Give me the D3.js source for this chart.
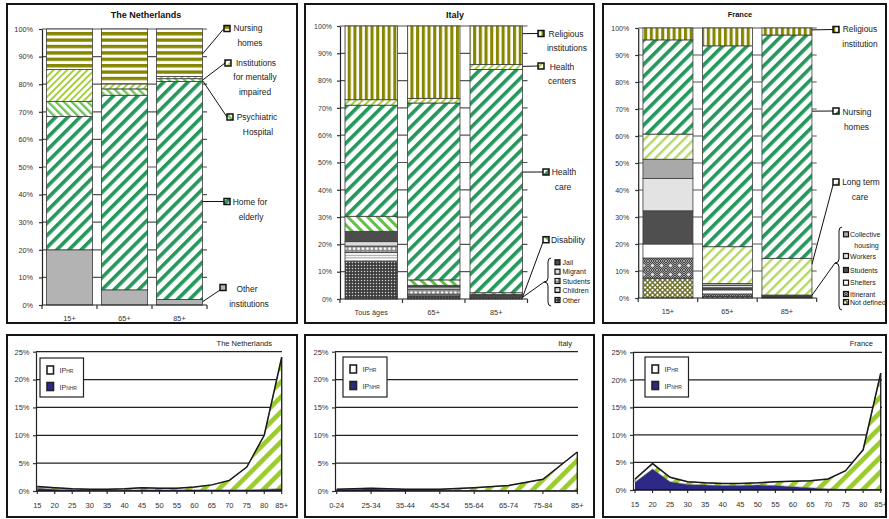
<!DOCTYPE html>
<html>
<head>
<meta charset="utf-8">
<script src="https://cdn.jsdelivr.net/npm/d3@7"></script>
<style>
  html, body { margin: 0; padding: 0; background: #fff; }
  svg { display: block; font-family: "Liberation Sans", Arial, sans-serif; }
</style>
</head>
<body>
<svg id="chart" width="889" height="519"></svg>
<script>
// ---------- Residents by type of institution (% of institutional population) ----------
const nlCategories = ["15+", "65+", "85+"];
const nlOtherInstitutions = [20.0, 5.5, 2.0];
const nlHomeForElderly = [48.3, 70.5, 79.0];
const nlPsychiatricHospital = [5.4, 2.3, 1.0];
const nlMentallyImpaired = [11.6, 1.8, 0.8];
const nlNursingHomes = [14.7, 19.9, 17.2];

const itCategories = ["Tous âges", "65+", "85+"];
const itOther = [13.7, 1.2, 0.5];
const itChildren = [3.3, 0.6, 0.2];
const itStudents = [2.4, 1.8, 0.3];
const itMigrant = [1.6, 0.8, 0.2];
const itJail = [3.8, 0.6, 0.5];
const itDisability = [5.5, 2.0, 0.6];
const itHealthCare = [40.7, 64.8, 81.8];
const itHealthCenters = [2.0, 1.7, 1.8];
const itReligious = [27.0, 26.5, 14.1];

const frCategories = ["15+", "65+", "85+"];
const frNotDefined = [7.3, 0.6, 0.2];
const frItinerant = [7.5, 0.9, 0.2];
const frShelters = [5.2, 1.5, 0.2];
const frStudents = [12.3, 0.8, 0.3];
const frWorkers = [12.0, 0.8, 0.1];
const frCollectiveHousing = [7.1, 0.8, 0.1];
const frLongTermCare = [9.3, 13.6, 13.6];
const frNursingHomes = [34.9, 74.4, 82.7];
const frReligious = [4.4, 6.6, 2.6];

const barTicks = [0, 10, 20, 30, 40, 50, 60, 70, 80, 90, 100];

// ---------- Share of population living in institutions, by age (%) ----------
const nlAges = ["15", "20", "25", "30", "35", "40", "45", "50", "55", "60", "65", "70", "75", "80", "85+"];
const nlIPNHR = [0.5, 0.3, 0.2, 0.15, 0.15, 0.15, 0.2, 0.2, 0.2, 0.2, 0.2, 0.2, 0.2, 0.3, 0.4];
const nlIPHR = [0.3, 0.3, 0.2, 0.15, 0.15, 0.25, 0.4, 0.3, 0.3, 0.5, 0.9, 1.7, 4.1, 9.7, 23.6];

const itAges = ["0-24", "25-34", "35-44", "45-54", "55-64", "65-74", "75-84", "85+"];
const itIPNHR = [0.2, 0.4, 0.2, 0.15, 0.1, 0.05, 0.05, 0.05];
const itIPHR = [0.1, 0.1, 0.1, 0.15, 0.5, 0.95, 2.05, 6.95];

const frAges = ["15", "20", "25", "30", "35", "40", "45", "50", "55", "60", "65", "70", "75", "80", "85+"];
const frIPNHR = [1.4, 3.8, 1.5, 1.0, 0.9, 0.8, 0.8, 0.9, 0.8, 0.6, 0.4, 0.2, 0.1, 0.1, 0.1];
const frIPHR = [0.6, 1.0, 0.8, 0.5, 0.4, 0.4, 0.4, 0.4, 0.7, 1.0, 1.3, 1.8, 3.4, 7.2, 21.1];

const lineTicks = [0, 5, 10, 15, 20, 25];

// ---------- drawing ----------
const svg = d3.select("#chart");
const defs = svg.append("defs");

function stripes(id, color, period, width, angle) {
  const p = defs.append("pattern").attr("id", id)
    .attr("patternUnits", "userSpaceOnUse")
    .attr("width", period).attr("height", period)
    .attr("patternTransform", `rotate(${angle})`);
  p.append("rect").attr("width", period).attr("height", period).attr("fill", "#fff");
  p.append("rect").attr("width", width).attr("height", period).attr("fill", color);
}
function dots(id, bg, dot, size, r) {
  const p = defs.append("pattern").attr("id", id)
    .attr("patternUnits", "userSpaceOnUse").attr("width", size).attr("height", size);
  p.append("rect").attr("width", size).attr("height", size).attr("fill", bg);
  p.append("circle").attr("cx", size / 2).attr("cy", size / 2).attr("r", r).attr("fill", dot);
}
stripes("olive-rows", "#868600", 6.4, 3.4, 90);
stripes("olive-cols", "#868600", 5.7, 3.1, 0);
stripes("green-diag", "#24985a", 8.6, 3.6, 45);
stripes("lime-diag", "#a4cf36", 4.8, 1.9, 45);
stripes("mint-diag", "#6fc35b", 5.6, 2.4, -45);
stripes("mint-wide", "#62c046", 7, 3, -45);
stripes("pale-diag", "#b5d95e", 7, 2.4, 45);
stripes("area-diag", "#9bcc2e", 10.6, 4.7, 45);
stripes("gray-rows", "#9a9a9a", 2.6, 1, 90);
dots("dark-dots", "#3d3d3d", "#d0d0d0", 3, 0.75);
dots("ring-row", "#8c8c8c", "#ffffff", 4.4, 1.4);
(function () {
  const chk = defs.append("pattern").attr("id", "checker")
    .attr("patternUnits", "userSpaceOnUse").attr("width", 2).attr("height", 2);
  chk.append("rect").attr("width", 2).attr("height", 2).attr("fill", "#474747");
  chk.append("rect").attr("width", 1).attr("height", 1).attr("fill", "#a0a0a0");
  chk.append("rect").attr("x", 1).attr("y", 1).attr("width", 1).attr("height", 1).attr("fill", "#a0a0a0");
  const st = defs.append("pattern").attr("id", "checker-stars")
    .attr("patternUnits", "userSpaceOnUse").attr("width", 9).attr("height", 9);
  st.append("rect").attr("width", 9).attr("height", 9).attr("fill", "url(#checker)");
  st.append("circle").attr("cx", 4.5).attr("cy", 4.5).attr("r", 1.3).attr("fill", "#fff");
  const lat = defs.append("pattern").attr("id", "olive-lattice")
    .attr("patternUnits", "userSpaceOnUse").attr("width", 5).attr("height", 5);
  lat.append("rect").attr("width", 5).attr("height", 5).attr("fill", "#fff");
  lat.append("path").attr("d", "M-1,-1L6,6M6,-1L-1,6").attr("stroke", "#6f6f2c").attr("stroke-width", 1.5);
})();

function styleAxis(sel, size) {
  sel.attr("font-family", null).attr("font-size", null);
  sel.select(".domain").attr("stroke", "#222").attr("stroke-width", 1.2);
  sel.selectAll(".tick line").attr("stroke", "#333").attr("stroke-width", 1.2);
  sel.selectAll(".tick text").attr("fill", "#333").style("font-size", size + "px");
}

function brace(x, top, bottom, tipX, mid) {
  return `M${x + 3},${top} Q${x},${top} ${x},${top + 4} L${x},${mid - 4} Q${x},${mid} ${tipX},${mid}` +
         ` Q${x},${mid} ${x},${mid + 4} L${x},${bottom - 4} Q${x},${bottom} ${x + 3},${bottom}`;
}

function drawStacked(opt) {
  const g = svg.append("g");
  const x = d3.scaleBand().domain(opt.categories).range([opt.x0, opt.x1])
    .paddingInner(0.16).paddingOuter(0.08);
  const y = d3.scaleLinear().domain([0, 100]).range([opt.yBottom, opt.yTop]);

  g.append("g").selectAll("line").data(barTicks.filter(v => v > 0)).join("line")
    .attr("x1", opt.x0).attr("x2", opt.x1)
    .attr("y1", d => y(d)).attr("y2", d => y(d))
    .attr("stroke", "#555").attr("stroke-width", 1.2);

  const rows = opt.categories.map((c, i) => {
    const r = { cat: c };
    opt.series.forEach(s => { r[s.key] = s.values[i]; });
    return r;
  });
  const stacked = d3.stack().keys(opt.series.map(s => s.key))(rows);
  g.append("g").selectAll("g").data(stacked).join("g")
    .attr("fill", (d, i) => opt.series[i].fill)
    .selectAll("rect").data(d => d).join("rect")
    .attr("x", d => x(d.data.cat)).attr("width", x.bandwidth())
    .attr("y", d => y(d[1])).attr("height", d => y(d[0]) - y(d[1]))
    .attr("stroke", "#3c3c3c").attr("stroke-width", 0.8);

  const ya = g.append("g").attr("transform", `translate(${opt.x0},0)`)
    .call(d3.axisLeft(y).tickValues(barTicks).tickSize(3).tickSizeOuter(0)
      .tickPadding(opt.tickPad).tickFormat(d => d + "%"));
  styleAxis(ya, opt.tickFont);

  g.append("line").attr("x1", opt.x0).attr("x2", opt.x1)
    .attr("y1", opt.yBottom).attr("y2", opt.yBottom)
    .attr("stroke", "#222").attr("stroke-width", 1.2);
  g.append("g").selectAll("line").data(d3.range(opt.categories.length + 1)).join("line")
    .attr("x1", i => opt.x0 + i * x.step()).attr("x2", i => opt.x0 + i * x.step())
    .attr("y1", opt.yBottom).attr("y2", opt.yBottom + 4)
    .attr("stroke", "#333").attr("stroke-width", 1.2);
  g.append("g").selectAll("text").data(opt.categories).join("text")
    .attr("x", d => x(d) + x.bandwidth() / 2).attr("y", opt.yBottom + 15.5)
    .attr("text-anchor", "middle").attr("fill", "#333")
    .style("font-size", "7.3px").text(d => d);

  g.append("text").attr("x", opt.titleX).attr("y", opt.titleY)
    .attr("text-anchor", "middle").attr("font-weight", "bold").attr("fill", "#111")
    .style("font-size", opt.titleSize + "px").text(opt.title);

  const xRight = c => x(c) + x.bandwidth();
  const lastCat = opt.categories[opt.categories.length - 1];
  const barEdge = xRight(lastCat);

  // main legend entries with leader lines
  opt.legend.forEach(item => {
    const s = opt.series.find(d => d.key === item.key);
    const from = item.from ? item.from : [barEdge, y(item.at)];
    const to = item.to ? item.to : [barEdge, y(item.at)];
    g.append("line").attr("x1", from[0]).attr("y1", from[1]).attr("x2", to[0]).attr("y2", to[1])
      .attr("stroke", "#111").attr("stroke-width", 1);
    g.append("rect").attr("x", item.sx).attr("y", item.sy).attr("width", 6).attr("height", 6)
      .attr("fill", s.fill).attr("stroke", "#111").attr("stroke-width", 1.5);
    item.lines.forEach(l => {
      g.append("text").attr("x", l[1]).attr("y", l[2]).attr("text-anchor", "middle")
        .attr("fill", "#222").style("font-size", opt.legendFont + "px").text(l[0]);
    });
  });

  // grouped small categories behind a brace
  if (opt.group) {
    const b = opt.group;
    g.append("path").attr("d", brace(b.x, b.top, b.bottom, b.tipX, b.mid))
      .attr("fill", "none").attr("stroke", "#111").attr("stroke-width", 1);
    g.append("line").attr("x1", b.tipX).attr("y1", b.mid)
      .attr("x2", barEdge).attr("y2", y(b.at))
      .attr("stroke", "#111").attr("stroke-width", 1);
    b.items.forEach(it => {
      const s = opt.series.find(d => d.key === it.key);
      g.append("rect").attr("x", b.sx).attr("y", it.cy - 2.5).attr("width", 5).attr("height", 5)
        .attr("fill", s.fill).attr("stroke", "#111").attr("stroke-width", 1.2);
      g.append("text").attr("x", b.tx).attr("y", it.cy + 2.5).attr("fill", "#222")
        .style("font-size", "7px").text(it.lines[0]);
      if (it.lines[1]) {
        g.append("text").attr("x", it.lines[1][1]).attr("y", it.lines[1][2]).attr("text-anchor", "middle")
          .attr("fill", "#222").style("font-size", "7px").text(it.lines[1][0]);
      }
    });
  }
}

// The Netherlands
drawStacked({
  categories: nlCategories,
  series: [
    { key: "Other institutions", values: nlOtherInstitutions, fill: "#b3b3b3" },
    { key: "Home for elderly", values: nlHomeForElderly, fill: "url(#green-diag)" },
    { key: "Psychiatric Hospital", values: nlPsychiatricHospital, fill: "url(#mint-diag)" },
    { key: "Institutions for mentally impaired", values: nlMentallyImpaired, fill: "url(#lime-diag)" },
    { key: "Nursing homes", values: nlNursingHomes, fill: "url(#olive-rows)" }
  ],
  x0: 42, x1: 207, yBottom: 305, yTop: 29, tickPad: 6, tickFont: 7.3,
  title: "The Netherlands", titleX: 146, titleY: 18, titleSize: 9,
  legendFont: 8.4,
  legend: [
    { key: "Nursing homes", sx: 224, sy: 25.5, at: 91, to: [224, 28.5],
      lines: [["Nursing", 248, 31], ["homes", 250, 46]] },
    { key: "Institutions for mentally impaired", sx: 225, sy: 60, at: 81.5, to: [225, 63],
      lines: [["Institutions", 256, 65.5], ["for mentally", 255, 80], ["impaired", 255, 95]] },
    { key: "Psychiatric Hospital", sx: 227, sy: 114, at: 81.3, to: [227, 117],
      lines: [["Psychiatric", 257, 120], ["Hospital", 258, 135]] },
    { key: "Home for elderly", sx: 224, sy: 198.5, at: 37.5, to: [224, 201.5],
      lines: [["Home for", 250, 205], ["elderly", 251, 220]] },
    { key: "Other institutions", sx: 220, sy: 284.5, at: 1.2, to: [220, 290],
      lines: [["Other", 247, 292], ["institutions", 249, 307]] }
  ]
});

// Italy
drawStacked({
  categories: itCategories,
  series: [
    { key: "Other", values: itOther, fill: "url(#dark-dots)" },
    { key: "Children", values: itChildren, fill: "url(#gray-rows)" },
    { key: "Students", values: itStudents, fill: "url(#ring-row)" },
    { key: "Migrant", values: itMigrant, fill: "#dcdcdc" },
    { key: "Jail", values: itJail, fill: "#4d4d4d" },
    { key: "Disability", values: itDisability, fill: "url(#mint-wide)" },
    { key: "Health care", values: itHealthCare, fill: "url(#green-diag)" },
    { key: "Health centers", values: itHealthCenters, fill: "url(#lime-diag)" },
    { key: "Religious institutions", values: itReligious, fill: "url(#olive-cols)" }
  ],
  x0: 340, x1: 527.5, yBottom: 299, yTop: 26, tickPad: 5, tickFont: 7,
  title: "Italy", titleX: 455, titleY: 18, titleSize: 9,
  legendFont: 8.5,
  legend: [
    { key: "Religious institutions", sx: 538, sy: 30.5, at: 97.2, to: [538, 33.5],
      lines: [["Religious", 566, 37], ["institutions", 567, 51]] },
    { key: "Health centers", sx: 538, sy: 63, at: 85.2, to: [538, 66],
      lines: [["Health", 562, 69.5], ["centers", 562, 84]] },
    { key: "Health care", sx: 543, sy: 169, at: 46.5, to: [543, 172],
      lines: [["Health", 564, 175], ["care", 563, 190]] },
    { key: "Disability", sx: 543, sy: 236.7, at: 0.6, to: [543, 242],
      lines: [["Disability", 568, 243]] }
  ],
  group: {
    x: 548, top: 258, bottom: 306, tipX: 544, mid: 282, at: 0.6, sx: 555, tx: 562.5,
    items: [
      { key: "Jail", cy: 262.3, lines: ["Jail"] },
      { key: "Migrant", cy: 271.7, lines: ["Migrant"] },
      { key: "Students", cy: 281, lines: ["Students"] },
      { key: "Children", cy: 290, lines: ["Children"] },
      { key: "Other", cy: 300, lines: ["Other"] }
    ]
  }
});

// France
drawStacked({
  categories: frCategories,
  series: [
    { key: "Not defined", values: frNotDefined, fill: "url(#olive-lattice)" },
    { key: "Itinerant", values: frItinerant, fill: "url(#checker-stars)" },
    { key: "Shelters", values: frShelters, fill: "#ffffff" },
    { key: "Students", values: frStudents, fill: "#4f4f4f" },
    { key: "Workers", values: frWorkers, fill: "#e3e3e3" },
    { key: "Collective housing", values: frCollectiveHousing, fill: "#a9a9a9" },
    { key: "Long term care", values: frLongTermCare, fill: "url(#pale-diag)" },
    { key: "Nursing homes", values: frNursingHomes, fill: "url(#green-diag)" },
    { key: "Religious institution", values: frReligious, fill: "url(#olive-cols)" }
  ],
  x0: 638.2, x1: 816.7, yBottom: 298, yTop: 28, tickPad: 6, tickFont: 7,
  title: "France", titleX: 740, titleY: 16.5, titleSize: 7.5,
  legendFont: 8.4,
  legend: [
    { key: "Religious institution", sx: 833, sy: 26.5, at: 99.3, to: [833, 29.5],
      lines: [["Religious", 860, 32], ["institution", 860, 47]] },
    { key: "Nursing homes", sx: 833, sy: 108, at: 69.2, to: [833, 111],
      lines: [["Nursing", 857, 115], ["homes", 856.5, 129.5]] },
    { key: "Long term care", sx: 833, sy: 179, at: 12.5, to: [833, 185],
      lines: [["Long term", 861, 185], ["care", 860, 200]] }
  ],
  group: {
    x: 839, top: 227, bottom: 310, tipX: 835, mid: 263, at: 1, sx: 843.5, tx: 850,
    items: [
      { key: "Collective housing", cy: 234.3, lines: ["Collective", ["housing", 866.5, 247.5]] },
      { key: "Workers", cy: 256, lines: ["Workers"] },
      { key: "Students", cy: 270, lines: ["Students"] },
      { key: "Shelters", cy: 282.7, lines: ["Shelters"] },
      { key: "Itinerant", cy: 294, lines: ["Itinerant"] },
      { key: "Not defined", cy: 302, lines: ["Not defined"] }
    ]
  }
});

// ---------- age profile area charts ----------
function drawProfile(opt) {
  const g = svg.append("g");
  const x = d3.scalePoint().domain(opt.ages).range([opt.xStart, opt.xEnd]);
  const y = d3.scaleLinear().domain([0, 25]).range([opt.yZero, opt.yTop]);
  const rows = opt.ages.map((a, i) => ({ age: a, nhr: opt.nhr[i], hr: opt.hr[i] }));
  const stacked = d3.stack().keys(["nhr", "hr"])(rows);

  g.append("g").selectAll("line").data(lineTicks.filter(v => v > 0)).join("line")
    .attr("x1", opt.axisX).attr("x2", opt.gridRight)
    .attr("y1", d => y(d)).attr("y2", d => y(d))
    .attr("stroke", "#222").attr("stroke-width", 1.3);

  const area = d3.area().x(d => x(d.data.age)).y0(d => y(d[0])).y1(d => y(d[1]));
  g.append("path").datum(stacked[0]).attr("d", area).attr("fill", "#2c2a86");
  g.append("path").datum(stacked[1]).attr("d", area).attr("fill", "url(#area-diag)")
    .attr("stroke", "#555").attr("stroke-width", 0.6);
  const top = d3.line().x(d => x(d.data.age)).y(d => y(d[1]));
  g.append("path").datum(stacked[1]).attr("d", top).attr("fill", "none")
    .attr("stroke", "#1a1a1a").attr("stroke-width", 1.5);
  const last = stacked[1][stacked[1].length - 1];
  g.append("line").attr("x1", x(last.data.age)).attr("x2", x(last.data.age))
    .attr("y1", y(last[1])).attr("y2", y(0)).attr("stroke", "#1a1a1a").attr("stroke-width", 1.2);

  const ya = g.append("g").attr("transform", `translate(${opt.axisX},0)`)
    .call(d3.axisLeft(y).tickValues(lineTicks).tickSize(3).tickSizeOuter(0)
      .tickPadding(3.5).tickFormat(d => d + "%"));
  styleAxis(ya, 7.5);

  g.append("line").attr("x1", opt.axisX).attr("x2", opt.gridRight)
    .attr("y1", y(0)).attr("y2", y(0)).attr("stroke", "#111").attr("stroke-width", 1.5);
  g.append("g").selectAll("line").data(opt.ages).join("line")
    .attr("x1", d => x(d)).attr("x2", d => x(d))
    .attr("y1", y(0)).attr("y2", y(0) + 3).attr("stroke", "#222").attr("stroke-width", 1.1);
  g.append("g").selectAll("text").data(opt.ages).join("text")
    .attr("x", d => x(d)).attr("y", y(0) + 16.5).attr("text-anchor", "middle")
    .attr("fill", "#333").style("font-size", "7.5px").text(d => d);

  g.append("text").attr("x", opt.titleRight).attr("y", 345.5).attr("text-anchor", "end")
    .attr("fill", "#222").style("font-size", "7.5px").text(opt.title);

  const L = opt.legendBox;
  g.append("rect").attr("x", L[0]).attr("y", L[1]).attr("width", L[2]).attr("height", L[3])
    .attr("fill", "#fff").attr("stroke", "#222").attr("stroke-width", 1.2);
  const entries = [
    { fill: "#fff", sub: "HR", dy: 0 },
    { fill: "#2c2a86", sub: "NHR", dy: 16.5 }
  ];
  entries.forEach(e => {
    g.append("rect").attr("x", L[0] + 7).attr("y", L[1] + 8 + e.dy).attr("width", 6.5).attr("height", 8)
      .attr("fill", e.fill).attr("stroke", "#222").attr("stroke-width", 1.6);
    const t = g.append("text").attr("x", L[0] + 19.5).attr("y", L[1] + 15 + e.dy)
      .attr("fill", "#333").style("font-size", "7px");
    t.append("tspan").text("IP");
    t.append("tspan").style("font-size", "5px").text(e.sub);
  });
}

drawProfile({
  ages: nlAges, nhr: nlIPNHR, hr: nlIPHR,
  xStart: 37.3, xEnd: 281.7, axisX: 36, gridRight: 282, yZero: 491, yTop: 351.7,
  title: "The Netherlands", titleRight: 272, legendBox: [40, 358, 43.5, 39]
});
drawProfile({
  ages: itAges, nhr: itIPNHR, hr: itIPHR,
  xStart: 336.7, xEnd: 577.3, axisX: 335, gridRight: 578, yZero: 491, yTop: 351.7,
  title: "Italy", titleRight: 572, legendBox: [343, 357, 44, 40]
});
drawProfile({
  ages: frAges, nhr: frIPNHR, hr: frIPHR,
  xStart: 635, xEnd: 880.7, axisX: 633, gridRight: 882, yZero: 490, yTop: 352.3,
  title: "France", titleRight: 873, legendBox: [645, 357, 43.5, 40]
});

// panel frames
const frames = [
  [7, 4, 290, 319], [305, 4, 289, 319], [603, 4, 283, 319],
  [7, 335, 290, 182], [305, 335, 289, 182], [603, 335, 283, 182]
];
svg.append("g").selectAll("rect").data(frames).join("rect")
  .attr("x", d => d[0]).attr("y", d => d[1]).attr("width", d => d[2]).attr("height", d => d[3])
  .attr("fill", "none").attr("stroke", "#151515").attr("stroke-width", 2);
</script>
</body>
</html>
